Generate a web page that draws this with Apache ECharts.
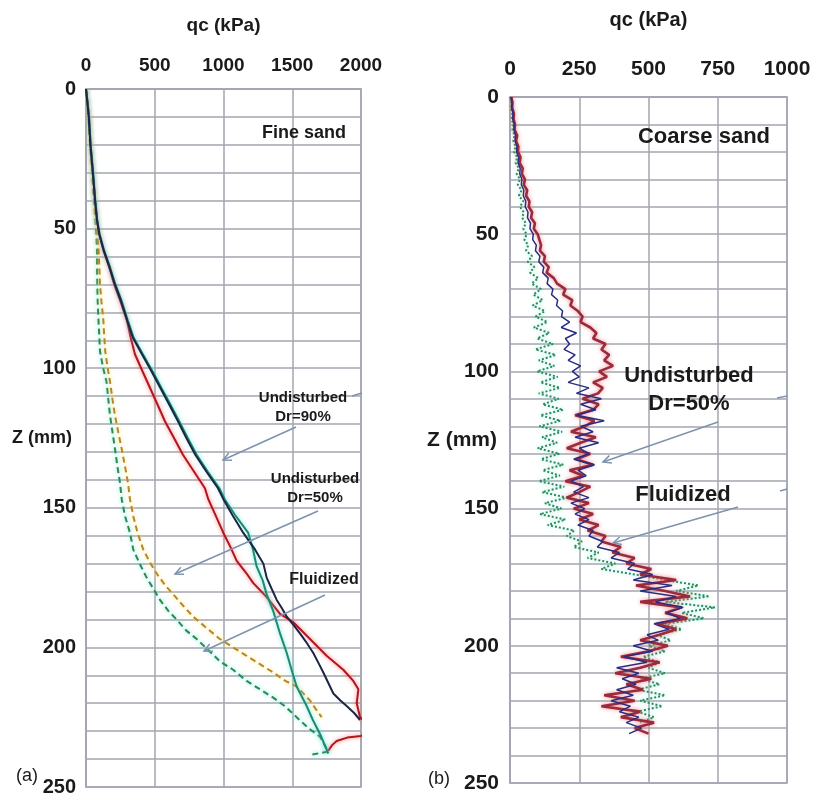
<!DOCTYPE html>
<html>
<head>
<meta charset="utf-8">
<script src="https://cdn.jsdelivr.net/npm/echarts@6/dist/echarts.min.js"></script>
<style>
html,body{margin:0;padding:0;background:#fff;}
#chart{width:815px;height:793px;}
</style>
</head>
<body>
<div id="chart"></div>
<script>
// ---------- Tick labels ----------
var leftQcTicks = [0, 500, 1000, 1500, 2000];
var rightQcTicks = [0, 250, 500, 750, 1000];
var depthTicks = [0, 50, 100, 150, 200, 250];

// ---------- Panel (a) Fine sand ----------
var aRedZ  = [0,5,10,20,30,40,47,52,58,64,70,76,83,89,95,101,107,113,119,125,131,137,143,147,153,159,164,169,173,177,182,188,191,197,203,208,212,215,220,225,227,231,231.7,232.3,233.5,235,237];
var aRedQc = [0,12,22,33,50,66,80,96,128,170,205,250,298,325,356,410,465,520,574,640,705,785,865,890,945,999,1050,1096,1160,1217,1314,1411,1508,1629,1750,1871,1944,1981,1969,1993,2040,2040,2000,1900,1823,1790,1762];

var aNavyZ  = [0,5,10,20,30,40,47,52,58,64,70,76,83,89,95,101,107,113,119,125,131,137,143,147,153,159,165,170,175,179,183,186,189,192,195,198,202,206,209,213,216.5,219,221,223.5,226];
var aNavyQc = [0,10,20,32,50,66,80,97,130,172,210,255,300,340,407,475,540,605,669,730,795,875,960,1000,1070,1144,1230,1290,1314,1350,1387,1425,1460,1510,1556,1600,1653,1695,1726,1765,1799,1850,1896,1950,1993];

var aTealZ  = [0,5,10,20,30,40,47,52,58,64,70,76,83,89,95,101,107,113,119,125,131,137,143,147,153,159,165,171,176,181,187,195,202,208,214,221,226,231,238];
var aTealQc = [0,12,22,34,52,68,82,99,133,176,214,260,305,346,414,483,548,614,678,740,805,885,970,1010,1090,1180,1215,1241,1285,1314,1362,1411,1460,1495,1532,1605,1650,1702,1762];

var aOrangeZ  = [0,5,10,20,30,40,47,52,58,64,70,76,82,88,94,100,105,111,117,123,129,135,141,147,153,159,165,170,174,178,181,185,189,193,197,200,203,206,209,212,214,217,219,222,225];
var aOrangeQc = [0,10,18,30,45,60,72,82,92,97,102,112,125,132,140,158,175,192,211,235,260,283,305,320,344,375,417,470,520,580,635,705,780,875,974,1070,1168,1265,1362,1450,1532,1590,1629,1670,1714];

var aGreenZ  = [0,5,10,20,30,40,47,52,58,64,70,76,82,88,94,100,105,111,117,123,129,135,141,147,153,159,165,170,175,179,183,187,190,194,197,201,205,208,212,215,218,221,225,229,232,235,237.3,238.5];
var aGreenQc = [0,10,18,30,45,58,68,75,80,80,82,85,90,96,102,125,150,162,175,193,211,228,247,260,284,320,344,390,441,490,538,600,659,730,805,890,974,1070,1168,1265,1362,1445,1532,1620,1702,1735,1762,1630];

// ---------- Panel (b) Coarse sand ----------
var bDepth = [0,2,4,6,8,10,12,14,16,18,20,22,24,26,28,30,32,34,36,38,40,42,44,46,48,50,52,54,56,58,60,62,64,66,68,70,72,74,76,78,80,82,84,86,88,90,92,94,96,98,100,102,104,106,108,110,112,114,116,118,120,122,124,126,128,130,132,134,136,138,140,142,144,146,148,150,152,154,156,158,160,162,164,166,168,170,172,174,176,178,180,182,184,186,188,190,192,194,196,198,200,202,204,206,208,210,212,214,216,218,220,222,224,226,228,230,232];

var bRedQc = [5,9,8,14,13,18,17,26,22,30,29,
  38,35,46,43,54,50,62,58,70,68,
  80,76,90,86,100,106,112,108,126,122,
  140,132,158,170,200,192,225,218,245,262,
  255,290,312,300,345,330,358,340,372,322,
  350,300,335,318,262,320,300,235,305,270,
  220,310,255,205,290,240,300,215,265,200,
  290,250,205,285,230,300,250,320,280,345,
  330,400,370,450,420,510,470,600,455,560,
  650,470,620,560,640,530,600,540,470,570,
  500,400,540,470,380,510,420,480,340,450,
  330,470,400,520,450,500];

var bBlueQc = [3,7,6,11,10,15,14,20,18,25,24,
  31,29,37,35,43,41,50,48,57,55,
  65,63,74,72,84,82,95,92,108,104,
  122,118,138,134,155,150,172,168,190,186,
  215,185,240,200,215,195,235,210,255,225,
  250,210,285,240,330,255,310,240,340,255,
  300,235,320,250,285,230,305,245,275,220,
  265,230,285,220,270,235,285,245,300,285,
  335,315,395,365,450,425,515,445,585,470,
  600,525,625,565,615,520,575,495,535,445,
  515,410,495,385,465,405,455,385,445,365,
  435,395,465,420,475,430];

var bGreenQc = [2,5,4,8,6,12,9,16,12,20,15,
  26,20,32,24,36,28,42,32,48,36,
  50,44,57,48,60,52,66,58,80,64,
  88,72,102,78,112,84,118,82,126,92,
  135,86,142,98,155,92,165,104,160,98,
  172,110,180,104,176,118,192,110,182,106,
  188,116,170,100,178,112,192,118,180,104,
  196,116,206,126,186,108,200,136,232,205,
  260,230,320,280,380,330,450,560,680,600,
  720,560,740,620,700,560,620,530,580,500,
  560,480,540,500,560,470,540,460,560,470,
  550,460,520,470];

function pairs(qc, z) {
  var out = [];
  for (var i = 0; i < qc.length && i < z.length; i++) out.push([qc[i], z[i]]);
  return out;
}

var FONT = "'Liberation Sans', Arial, sans-serif";
var NARROW = "'Liberation Sans Narrow', 'Liberation Sans', Arial, sans-serif";
var GRID_COLOR = '#a3a6b0';
var TXT = '#1a1a1a';
var ARROW = '#7d93ad';

function xAxisCfg(gridIndex, max, interval, labelSize, margin, nameGap, nameSize, font) {
  return {
    type: 'value', gridIndex: gridIndex, position: 'top', min: 0, max: max, interval: interval,
    name: 'qc (kPa)', nameLocation: 'middle', nameGap: nameGap, nameMoveOverlap: false,
    nameTextStyle: { fontFamily: font, fontWeight: 'bold', fontSize: nameSize, color: TXT },
    axisLine: { show: true, lineStyle: { color: GRID_COLOR, width: 1.5 } },
    axisTick: { show: false },
    axisLabel: { margin: margin, fontFamily: font, fontWeight: 'bold', fontSize: labelSize, color: TXT,
      formatter: function (v) { return String(v); } },
    splitLine: { show: true, lineStyle: { color: GRID_COLOR, width: 1.5 } }
  };
}
function yAxisCfg(gridIndex, labelSize, margin, nameGap, nameSize, font) {
  return {
    type: 'value', gridIndex: gridIndex, inverse: true, min: 0, max: 250, interval: 10,
    name: 'Z (mm)', nameLocation: 'middle', nameRotate: 0, nameGap: nameGap, nameMoveOverlap: false,
    nameTextStyle: { fontFamily: font, fontWeight: 'bold', fontSize: nameSize, color: TXT },
    axisLine: { show: true, lineStyle: { color: GRID_COLOR, width: 1.5 } },
    axisTick: { show: false },
    axisLabel: {
      margin: margin, fontFamily: font, fontWeight: 'bold', fontSize: labelSize, color: TXT,
      formatter: function (v) { return depthTicks.indexOf(v) >= 0 ? String(v) : ''; }
    },
    splitLine: { show: true, lineStyle: { color: GRID_COLOR, width: 1.5 } }
  };
}

function lineSeries(name, xi, data, color, width, type, glow) {
  return {
    name: name, type: 'line', xAxisIndex: xi, yAxisIndex: xi, data: data,
    showSymbol: false, symbol: 'none', clip: true, animation: false,
    lineStyle: { color: color, width: width, type: type, shadowColor: glow, shadowBlur: glow ? 4 : 0 },
    z: 3
  };
}

function arrow(x1, y1, x2, y2) {
  var ang = Math.atan2(y1 - y2, x1 - x2);
  var L = 9, a = 0.45;
  var h1 = [x2 + L * Math.cos(ang + a), y2 + L * Math.sin(ang + a)];
  var h2 = [x2 + L * Math.cos(ang - a), y2 + L * Math.sin(ang - a)];
  return [
    { type: 'polyline', shape: { points: [[x1, y1], [x2, y2]] }, style: { stroke: ARROW, lineWidth: 1.5, fill: null }, z: 10 },
    { type: 'polyline', shape: { points: [h1, [x2, y2], h2] }, style: { stroke: ARROW, lineWidth: 1.5, fill: null }, z: 10 }
  ];
}
function txt(x, y, text, size, bold, font, align) {
  return { type: 'text', x: x, y: y, z: 10,
    style: { text: text, fontFamily: font || FONT, fontSize: size, fontWeight: bold ? 'bold' : 'normal',
      fill: TXT, align: align || 'center', verticalAlign: 'middle', lineHeight: size * 1.25 } };
}
function seg(x1, y1, x2, y2) {
  return { type: 'polyline', shape: { points: [[x1, y1], [x2, y2]] }, style: { stroke: ARROW, lineWidth: 1.5, fill: null }, z: 10 };
}

var graphics = [].concat(
  [txt(304, 133, 'Fine sand', 18, true)],
  [txt(704, 137, 'Coarse sand', 22, true, NARROW)],
  [txt(303, 407, 'Undisturbed\nDr=90%', 15, true)],
  [txt(315, 488, 'Undisturbed\nDr=50%', 15, true)],
  [txt(324, 580, 'Fluidized', 16, true)],
  arrow(296, 427, 223, 460),
  [seg(352, 396, 362, 393)],
  arrow(318, 511, 175, 574),
  arrow(325, 595, 204, 651),
  [txt(689, 390, 'Undisturbed\nDr=50%', 22, true, NARROW)],
  [txt(683, 495, 'Fluidized', 22, true, NARROW)],
  arrow(718, 422, 603, 462),
  [seg(777, 398, 787, 396)],
  arrow(738, 507, 613, 543),
  [seg(780, 491, 787, 489)],
  [txt(16, 776, '(a)', 18, false, FONT, 'left')],
  [txt(428, 779, '(b)', 18, false, FONT, 'left')]
);

var chart = echarts.init(document.getElementById('chart'), null, { renderer: 'canvas' });
chart.setOption({
  backgroundColor: '#ffffff',
  animation: false,
  grid: [
    { left: 86, top: 89, width: 275, height: 698, show: true, borderColor: GRID_COLOR, borderWidth: 1.5,
      containLabel: false, outerBoundsMode: 'none' },
    { left: 510, top: 97, width: 277, height: 686, show: true, borderColor: GRID_COLOR, borderWidth: 1.5,
      containLabel: false, outerBoundsMode: 'none' }
  ],
  xAxis: [
    xAxisCfg(0, 2000, 500, 19, 14, 54, 19, FONT),
    xAxisCfg(1, 1000, 250, 21, 17, 67, 20, NARROW)
  ],
  yAxis: [
    yAxisCfg(0, 20, 10, 14, 18, FONT),
    yAxisCfg(1, 21, 11, 13, 21, NARROW)
  ],
  series: [
    lineSeries('a-green-dashed', 0, pairs(aGreenQc, aGreenZ), '#2b8a4f', 2, [6, 4], 'rgba(90,230,220,0.9)'),
    lineSeries('a-orange-dashed', 0, pairs(aOrangeQc, aOrangeZ), '#b8862a', 2, [6, 4], 'rgba(255,230,90,0.9)'),
    lineSeries('a-red', 0, pairs(aRedQc, aRedZ), '#b01620', 2, 'solid', 'rgba(255,90,90,0.8)'),
    lineSeries('a-teal', 0, pairs(aTealQc, aTealZ), '#1f8a6e', 2, 'solid', 'rgba(90,230,220,0.9)'),
    lineSeries('a-navy', 0, pairs(aNavyQc, aNavyZ), '#1c2545', 2, 'solid', null),
    lineSeries('b-green-dotted', 1, pairs(bGreenQc, bDepth), '#2e8b57', 2, [2, 2], 'rgba(120,230,220,0.7)'),
    lineSeries('b-red', 1, pairs(bRedQc, bDepth), '#9b2a3a', 2.6, 'solid', 'rgba(235,130,140,0.9)'),
    lineSeries('b-blue', 1, pairs(bBlueQc, bDepth), '#2a2d80', 1.5, 'solid', null)
  ],
  graphic: graphics
});
</script>
</body>
</html>
